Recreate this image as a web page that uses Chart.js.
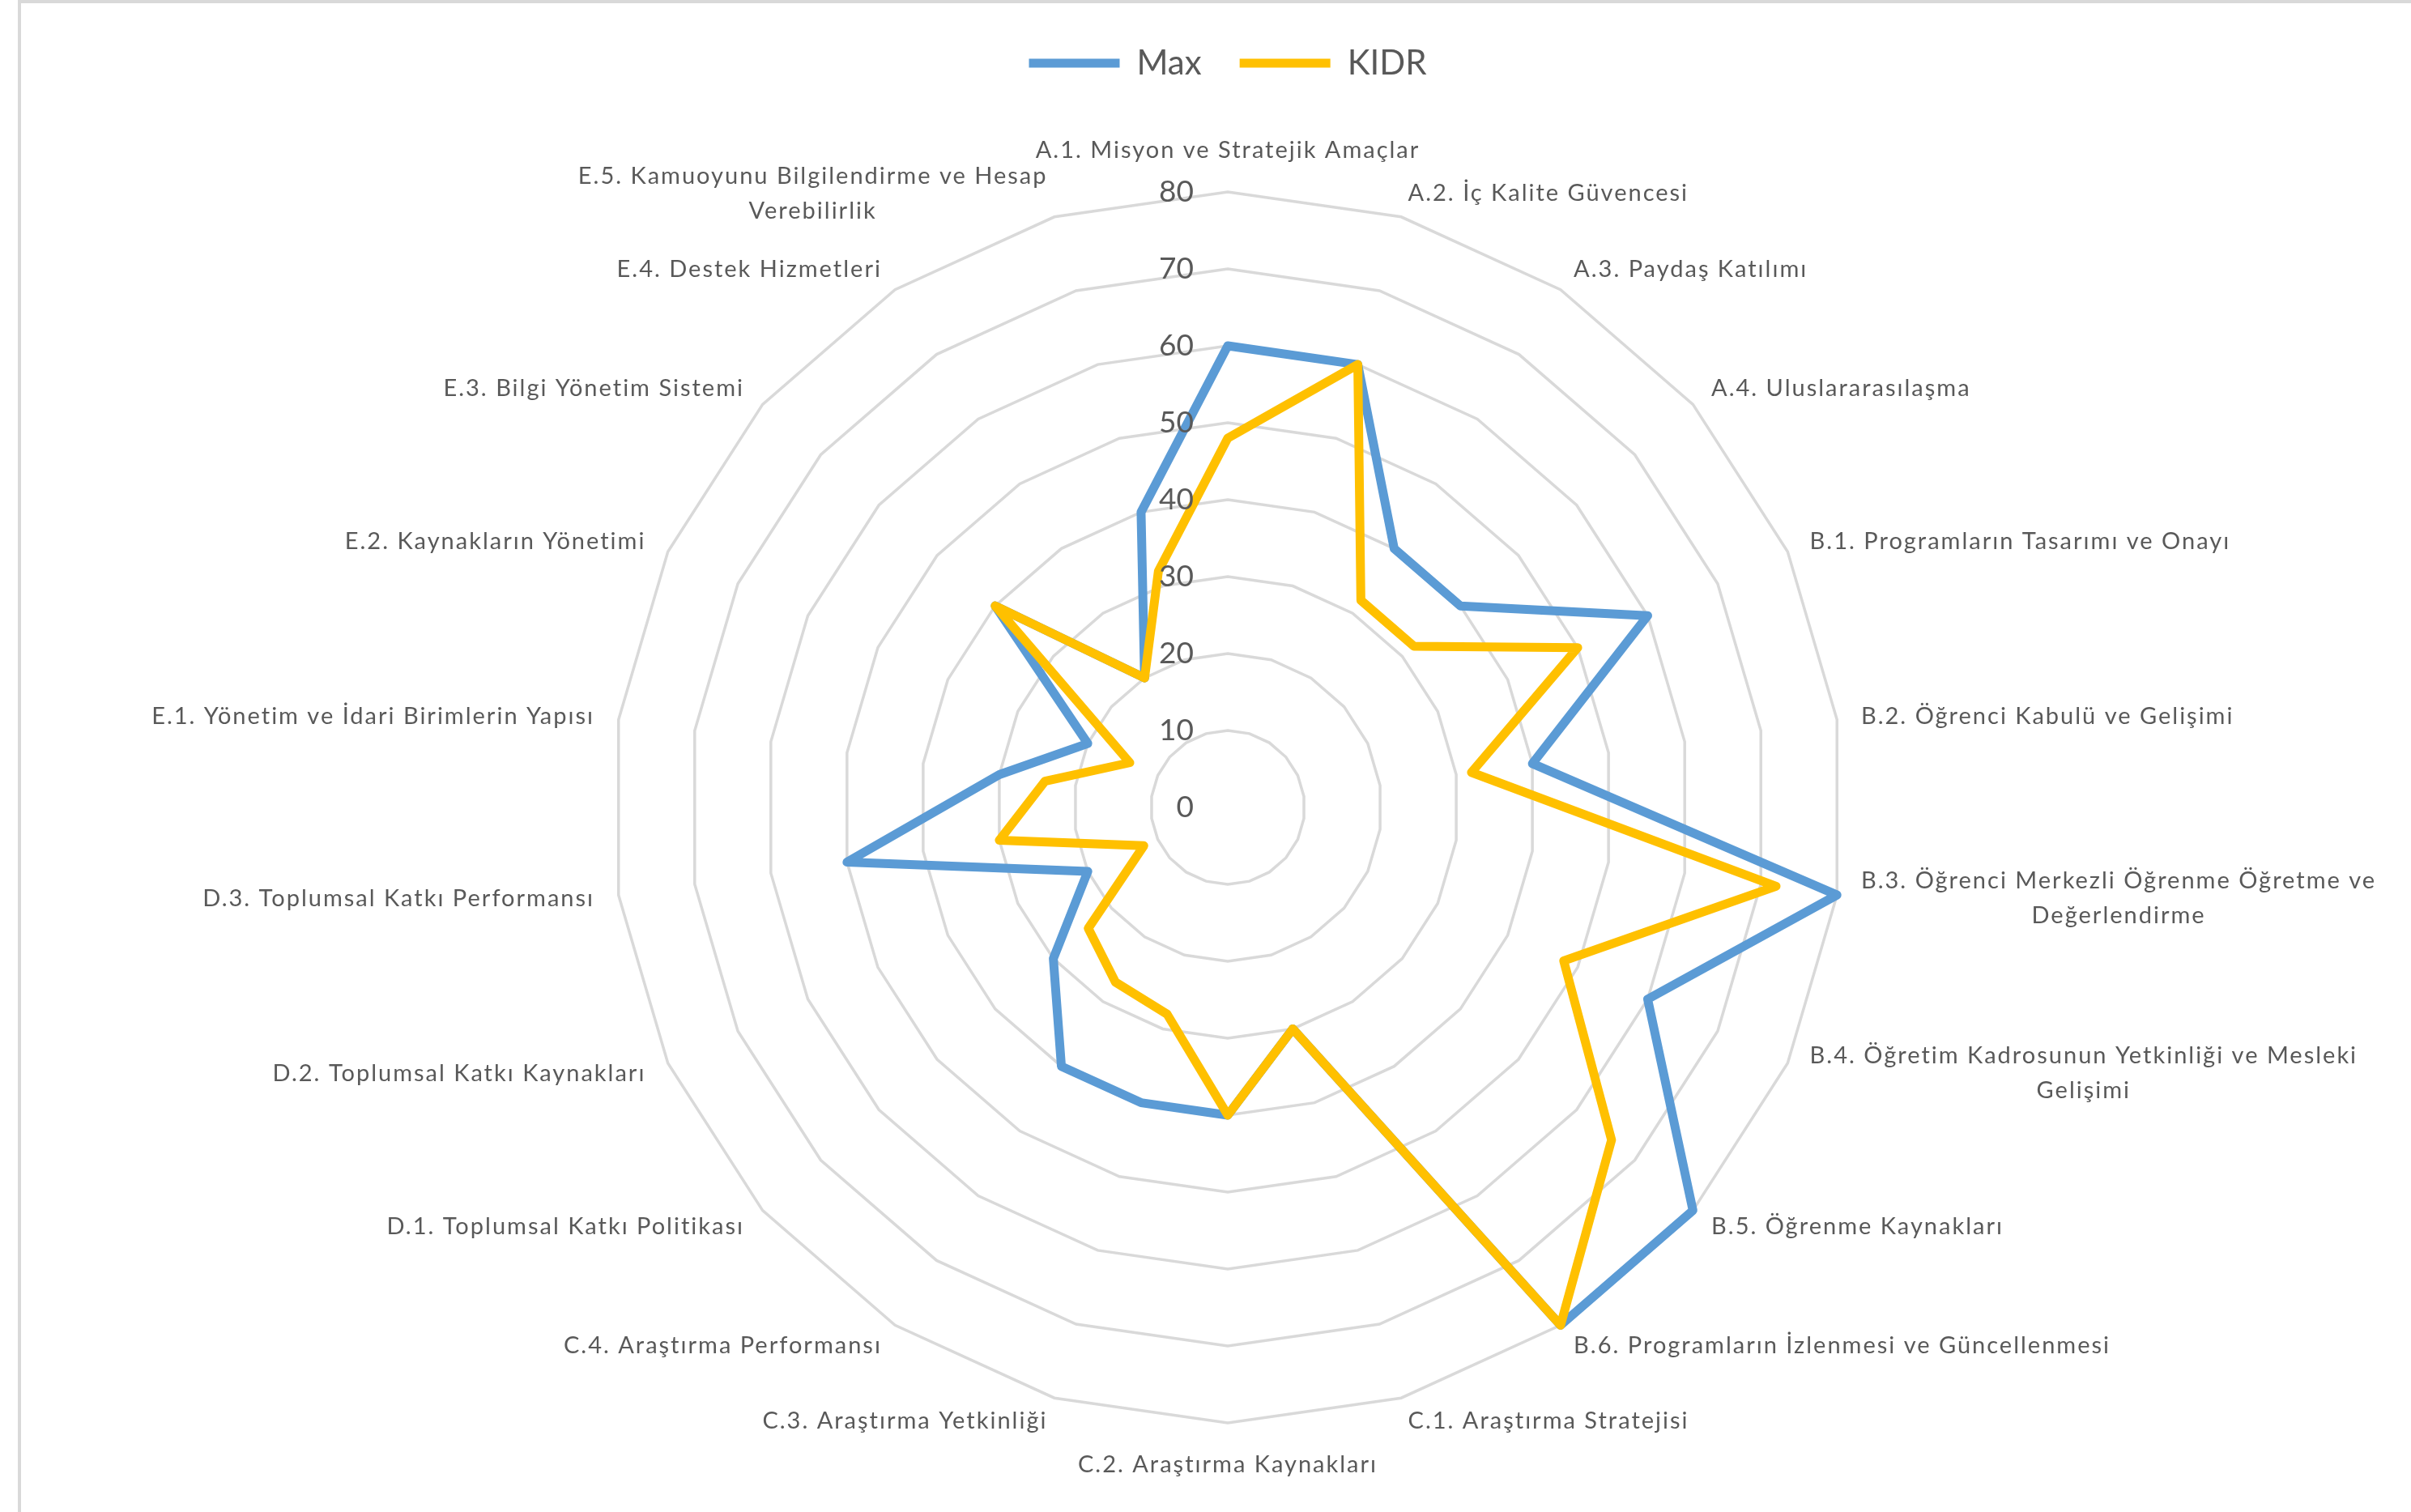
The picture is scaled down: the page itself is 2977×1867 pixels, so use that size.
<!DOCTYPE html>
<html lang="tr">
<head>
<meta charset="UTF-8">
<title>Max - KIDR</title>
<script src="https://cdn.jsdelivr.net/npm/chart.js@4.4.1/dist/chart.umd.min.js"></script>
<style>
  html, body { margin: 0; padding: 0; background: #fff; }
  #wrap { position: relative; width: 2977px; height: 1867px; overflow: hidden; }
  #radar { position: absolute; left: 0; top: 0; }
  /* Excel chart frame, only the left and top edges are visible */
  #frame { position: absolute; left: 22px; top: 0; right: -10px; bottom: -10px;
           border-left: 4px solid #d9d9d9; border-top: 4px solid #d9d9d9; pointer-events: none; }
</style>
</head>
<body>
<div id="wrap">
  <canvas id="radar" width="2977" height="1867"></canvas>
  <div id="frame"></div>
</div>
<script>
// kategoriler (uzun olanlar Excel'deki gibi iki satır)
const categories = [
    'A.1. Misyon ve Stratejik Amaçlar',
    'A.2. İç Kalite Güvencesi',
    'A.3. Paydaş Katılımı',
    'A.4. Uluslararasılaşma',
    'B.1. Programların Tasarımı ve Onayı',
    'B.2. Öğrenci Kabulü ve Gelişimi',
    ['B.3. Öğrenci Merkezli Öğrenme Öğretme ve', 'Değerlendirme'],
    ['B.4. Öğretim Kadrosunun Yetkinliği ve Mesleki', 'Gelişimi'],
    'B.5. Öğrenme Kaynakları',
    'B.6. Programların İzlenmesi ve Güncellenmesi',
    'C.1. Araştırma Stratejisi',
    'C.2. Araştırma Kaynakları',
    'C.3. Araştırma Yetkinliği',
    'C.4. Araştırma Performansı',
    'D.1. Toplumsal Katkı Politikası',
    'D.2. Toplumsal Katkı Kaynakları',
    'D.3. Toplumsal Katkı Performansı',
    'E.1. Yönetim ve İdari Birimlerin Yapısı',
    'E.2. Kaynakların Yönetimi',
    'E.3. Bilgi Yönetim Sistemi',
    'E.4. Destek Hizmetleri',
    ['E.5. Kamuoyunu Bilgilendirme ve Hesap', 'Verebilirlik']
];

const maxValues = [60, 60, 40, 40, 60, 40, 80, 60, 80, 80, 30, 40, 40, 40, 30, 20, 50, 30, 20, 40, 20, 40];
const kidrValues = [48, 60, 32, 32, 50, 32, 72, 48, 66, 80, 30, 40, 28, 27, 24, 12, 30, 24, 14, 40, 20, 32];

const tickValues = [0, 10, 20, 30, 40, 50, 60, 70, 80];

const textColor = '#595959';

Chart.defaults.font.family = 'Lato';

// Excel gibi: eksen sayıları dikey eksenin solunda (0 dahil),
// kategori adları noktaya yaslı ve dikeyde ortalı, satırlar ortalanmış
const excelText = {
    id: 'excelText',
    afterDraw(chart) {
        const scale = chart.scales.r;
        const ctx = chart.ctx;
        ctx.save();
        ctx.fillStyle = textColor;
        ctx.textBaseline = 'middle';

        ctx.font = '37px Lato';
        ctx.textAlign = 'right';
        scale.ticks.forEach(t => {
            const y = scale.yCenter - scale.getDistanceFromCenterForValue(t.value);
            ctx.fillText(String(t.value), scale.xCenter - 42, y);
        });

        const lh = 43;
        const count = chart.data.labels.length;
        ctx.font = '29px Lato';
        if ('letterSpacing' in ctx) ctx.letterSpacing = '2px';
        ctx.textAlign = 'left';
        chart.data.labels.forEach((label, i) => {
            const lines = [].concat(label);
            const pos = scale.getPointPosition(i, scale.drawingArea + 30);
            const deg = i * 360 / count;
            const widths = lines.map(l => ctx.measureText(l).width);
            const blockW = Math.max(...widths);
            const blockH = lines.length * lh;

            let left, top;
            if (deg === 0) {
                left = pos.x - blockW / 2;
                top = pos.y - blockH;
            } else if (deg === 180) {
                left = pos.x - blockW / 2;
                top = pos.y;
            } else {
                left = deg < 180 ? pos.x : pos.x - blockW;
                top = pos.y - blockH / 2;
            }
            lines.forEach((line, k) => {
                ctx.fillText(line, left + (blockW - widths[k]) / 2, top + lh * (k + 0.5));
            });
        });
        ctx.restore();
    }
};

const chart = new Chart(document.getElementById('radar'), {
    type: 'radar',
    data: {
        labels: categories,
        datasets: [
            {
                label: 'Max',
                data: maxValues,
                borderColor: '#5b9bd5',
                backgroundColor: '#5b9bd5',
                borderWidth: 11,
                borderCapStyle: 'round',
                borderJoinStyle: 'round',
                pointRadius: 0,
                fill: false,
                order: 1
            },
            {
                label: 'KIDR',
                data: kidrValues,
                borderColor: '#ffc000',
                backgroundColor: '#ffc000',
                borderWidth: 11,
                borderCapStyle: 'round',
                borderJoinStyle: 'round',
                pointRadius: 0,
                fill: false,
                order: 0
            }
        ]
    },
    options: {
        responsive: false,
        animation: false,
        layout: {
            padding: { left: 55, right: 0, top: 10, bottom: 110 }
        },
        plugins: {
            legend: {
                position: 'top',
                labels: {
                    usePointStyle: true,
                    pointStyle: 'line',
                    pointStyleWidth: 112,
                    padding: 47,
                    color: textColor,
                    font: { size: 42 },
                    sort: (a, b) => a.datasetIndex - b.datasetIndex
                }
            },
            // boş başlık: lejant ile grafik arasında boşluk
            title: {
                display: true,
                text: '',
                position: 'top',
                weight: 500,
                font: { size: 10, lineHeight: 1 },
                padding: { top: 0, bottom: 118 }
            },
            tooltip: { enabled: false }
        },
        scales: {
            r: {
                min: 0,
                max: 80,
                afterBuildTicks: scale => {
                    scale.ticks = tickValues.map(v => ({ value: v }));
                },
                ticks: { display: false },
                grid: { color: '#d9d9d9', lineWidth: 3.5 },
                angleLines: { display: false },
                pointLabels: { display: false }
            }
        }
    },
    plugins: [excelText]
});
</script>
</body>
</html>
